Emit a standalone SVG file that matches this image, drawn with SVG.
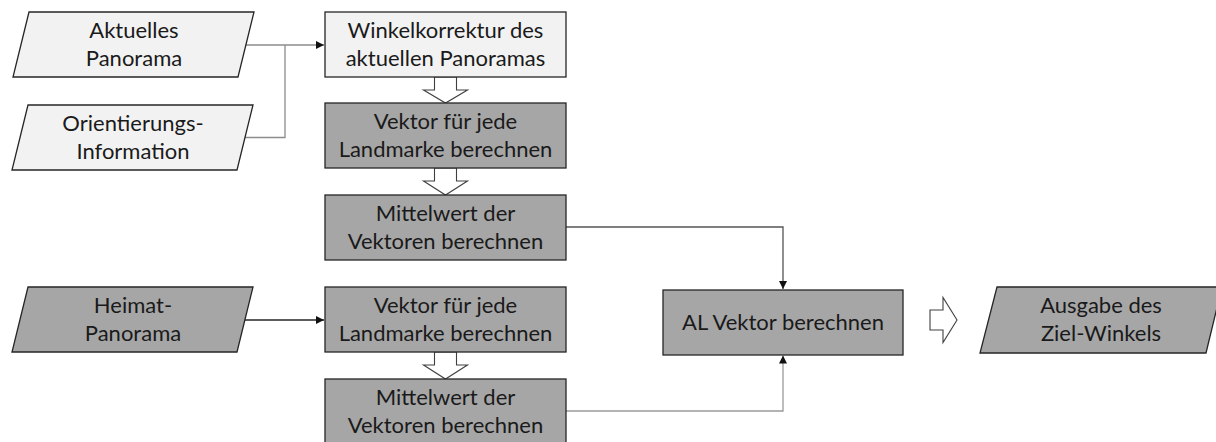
<svg xmlns="http://www.w3.org/2000/svg" width="1216" height="442" viewBox="0 0 1216 442">
  <style>
    .light { fill: #f2f2f2; stroke: #262626; stroke-width: 1.3; }
    .dark { fill: #a6a6a6; stroke: #262626; stroke-width: 1.3; }
    .hollow { fill: #ffffff; stroke: #404040; stroke-width: 1.1; stroke-linejoin: miter; }
    .label { font-family: Lato, "Liberation Sans", sans-serif; font-size: 22px; fill: #1a1a1a; text-anchor: middle; }
    .wire { fill: none; stroke-width: 1.3; }
    .grey { stroke: #8c8c8c; }
    .mid { stroke: #555555; }
    .soft { stroke: #9a9a9a; }
    .black { stroke: #262626; }
  </style>
  <defs>
    <marker id="tip" markerUnits="userSpaceOnUse" markerWidth="9" markerHeight="8" refX="8" refY="4" orient="auto">
      <path d="M0,0 L8,4 L0,8 Z" fill="#111111"/>
    </marker>
  </defs>

  <!-- connectors -->
  <g id="connectors">
    <path class="wire grey" d="M246,45 H324" marker-end="url(#tip)"/>
    <path class="wire grey" d="M245,137.5 H285 V45"/>
    <path class="wire black" d="M245,320 H324" marker-end="url(#tip)"/>
    <path class="wire mid" d="M566,227 H783 V289" marker-end="url(#tip)"/>
    <path class="wire soft" d="M566,411 H783 V355.5" marker-end="url(#tip)"/>
    <!-- block arrows -->
    <polygon class="hollow" points="434.5,77 434.5,90 423.5,90 445.5,103 467.5,90 456.5,90 456.5,77"/>
    <polygon class="hollow" points="434.5,168 434.5,181 423.5,181 445.5,195 467.5,181 456.5,181 456.5,168"/>
    <polygon class="hollow" points="434.5,352 434.5,365 423.5,365 445.5,379 467.5,365 456.5,365 456.5,352"/>
    <polygon class="hollow" points="930,310 943,310 943,297.5 957,320 943,342.5 943,330 930,330"/>
  </g>

  <!-- inputs -->
  <g id="aktuelles-panorama">
    <polygon class="light" points="29,12 254,12 238,77 13,77"/>
    <text class="label" x="134" y="38">Aktuelles</text>
    <text class="label" x="134" y="66">Panorama</text>
  </g>
  <g id="orientierungs-information">
    <polygon class="light" points="28,105 253,105 237,170 12,170"/>
    <text class="label" x="133" y="131">Orientierungs-</text>
    <text class="label" x="133" y="159">Information</text>
  </g>
  <g id="heimat-panorama">
    <polygon class="dark" points="28,287 253,287 237,352 12,352"/>
    <text class="label" x="133" y="313">Heimat-</text>
    <text class="label" x="133" y="341">Panorama</text>
  </g>

  <!-- processing steps -->
  <g id="winkelkorrektur">
    <rect class="light" x="325" y="12" width="241" height="65"/>
    <text class="label" x="445.5" y="38">Winkelkorrektur des</text>
    <text class="label" x="445.5" y="66">aktuellen Panoramas</text>
  </g>
  <g id="vektor-aktuell">
    <rect class="dark" x="325" y="103" width="241" height="65"/>
    <text class="label" x="445.5" y="129">Vektor für jede</text>
    <text class="label" x="445.5" y="157">Landmarke berechnen</text>
  </g>
  <g id="mittelwert-aktuell">
    <rect class="dark" x="325" y="195" width="241" height="65"/>
    <text class="label" x="445.5" y="221">Mittelwert der</text>
    <text class="label" x="445.5" y="249">Vektoren berechnen</text>
  </g>
  <g id="vektor-heimat">
    <rect class="dark" x="325" y="287" width="241" height="65"/>
    <text class="label" x="445.5" y="313">Vektor für jede</text>
    <text class="label" x="445.5" y="341">Landmarke berechnen</text>
  </g>
  <g id="mittelwert-heimat">
    <rect class="dark" x="325" y="379" width="241" height="65"/>
    <text class="label" x="445.5" y="405">Mittelwert der</text>
    <text class="label" x="445.5" y="433">Vektoren berechnen</text>
  </g>
  <g id="al-vektor">
    <rect class="dark" x="663" y="290" width="240" height="65"/>
    <text class="label" x="783" y="330">AL Vektor berechnen</text>
  </g>

  <!-- output -->
  <g id="ausgabe">
    <polygon class="dark" points="997,287 1222,287 1206,353 980,353"/>
    <text class="label" x="1101" y="313">Ausgabe des</text>
    <text class="label" x="1101" y="341">Ziel-Winkels</text>
  </g>
</svg>
